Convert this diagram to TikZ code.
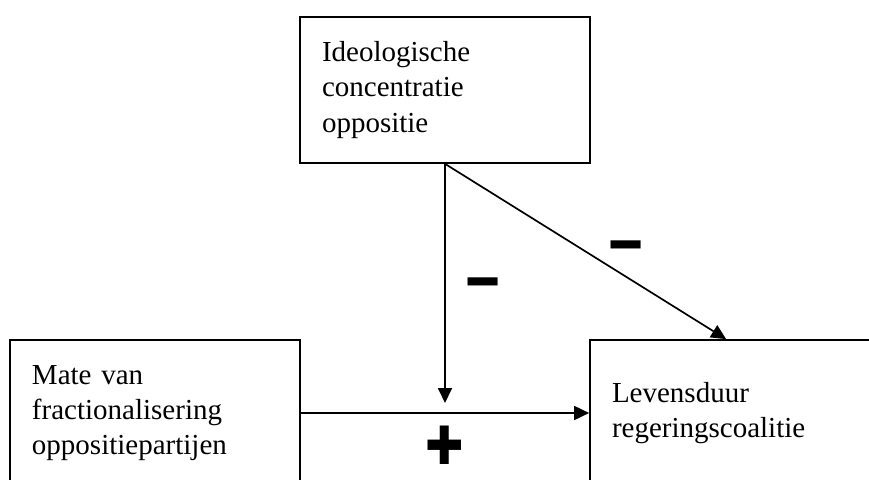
\documentclass[tikz,border=0pt]{standalone}
\usepackage{fontspec}
\setmainfont{Liberation Serif}
\newfontfamily\signfont{DejaVu Sans}
\usetikzlibrary{arrows.meta, positioning, calc}

\begin{document}
\begin{tikzpicture}[
  x=0.4138pt, y=-0.4138pt,
  arrow/.style={-{Triangle[length=6.2pt, width=5.8pt]}, line width=0.7pt},
  var_box/.style={draw, rectangle, line width=0.7pt, inner xsep=0pt, align=left,
    font=\fontsize{12pt}{14.5pt}\selectfont},
  sign/.style={inner sep=0pt, font=\signfont\fontsize{20pt}{20pt}\selectfont}
]
  \clip (0,0) rectangle (869,480);
  \useasboundingbox (0,0) rectangle (869,480);

  % Variables
  \node (ideo) [var_box, minimum width=290*0.4138pt, minimum height=146*0.4138pt, text width=246*0.4138pt] at (445,90) {Ideologische\\concentratie\\oppositie};
  \node (frac) [var_box, minimum width=290*0.4138pt, minimum height=146*0.4138pt, text width=246*0.4138pt] at (155,413) {Mate van\\fractionalisering\\oppositiepartijen};
  \node (duur) [var_box, minimum width=300*0.4138pt, minimum height=146*0.4138pt, text width=256*0.4138pt] at (740,413) {Levensduur\\regeringscoalitie};

  % Connections
  \coordinate (mod) at (ideo.south |- 0,403);
  \draw[arrow] (ideo.south) -- (mod);
  \draw[arrow] (ideo.south) -- ($(duur.north west)+(137,0)$);
  \draw[arrow] (frac.east) -- (duur.west);

  % Signs
  \node (min_mod) [sign] at (483,288) {━};
  \node (min_dir) [sign] at (626,251) {━};
  \node (plus_dir) [sign, yscale=1.15, font=\signfont\fontsize{19pt}{19pt}\selectfont] at (445,445) {✚};

\end{tikzpicture}
\end{document}
